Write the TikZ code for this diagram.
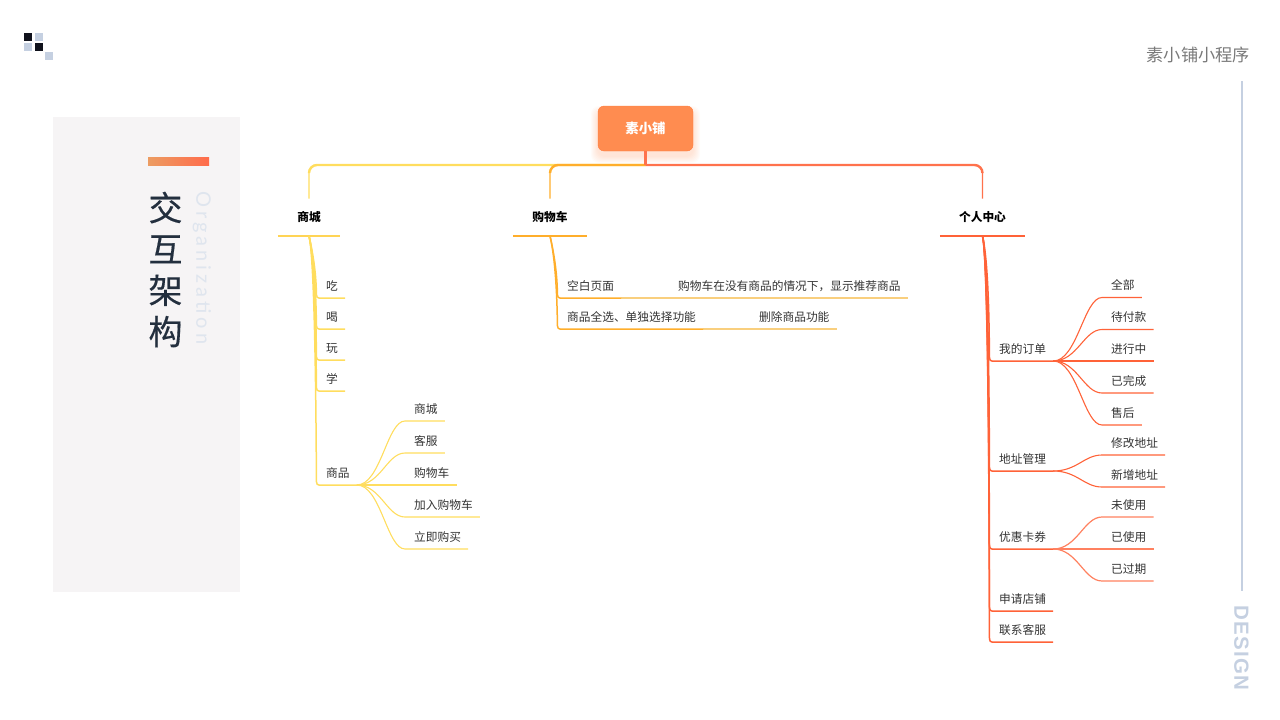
\documentclass[tikz,border=0pt]{standalone}
\usepackage{fontspec}
\setmainfont{Noto Sans CJK SC}
\newfontfamily\titlefont[FakeBold=0.4]{Noto Sans CJK SC}
\newfontfamily\orgfont[LetterSpace=20]{Lato}
\newfontfamily\designfont[LetterSpace=6]{Liberation Sans}
\usetikzlibrary{calc}

\definecolor{inkdark}{HTML}{232F3E}
\definecolor{inkgrey}{HTML}{333333}
\definecolor{yelline}{HTML}{FFDD5E}
\definecolor{orgline}{HTML}{FFAE2B}
\definecolor{orgpale}{HTML}{F9CF7E}
\definecolor{redline}{HTML}{FF6238}
\definecolor{redpale}{HTML}{F6937A}
\definecolor{steel}{HTML}{C5D0E1}
\definecolor{panel}{HTML}{F6F4F5}
\definecolor{rootfill}{HTML}{FF8C50}
\definecolor{rootedge}{HTML}{FF7C3E}
\definecolor{barleft}{HTML}{EC9C62}
\definecolor{barright}{HTML}{FF6B4B}
\definecolor{logodark}{HTML}{10121C}

\tikzset{
    leaf/.style={anchor=south west,inner xsep=7pt,inner ysep=6pt,text height=10.5pt,text depth=1.5pt,
        font=\fontsize{11.7}{12}\selectfont,text=inkgrey},
    headnode/.style={anchor=south,inner xsep=0pt,inner ysep=12pt,text height=10.5pt,text depth=2.5pt,
        font=\fontsize{11.7}{12}\selectfont\bfseries,text=black},
}

% trunk from a head node down to one of its items, then along the underline
\newcommand{\stemto}[3]{\draw[#1,line width=1.5pt,line join=round] (#2.south) .. controls +(7,30) and ($(#3.south west)+(-2.8,-12)$) .. ($(#3.south west)+(-2.5,-3)$) .. controls ($(#3.south west)+(-2.5,-1)$) and ($(#3.south west)+(-1.5,0)$) .. (#3.south west) -- (#3.south east);}
% s-curve from an item to its sub item, then along the underline
\newcommand{\fanto}[4]{\draw[#1,line width=#4] (#2.south east) .. controls +(24,0) and ($(#3.south west)+(-20,0)$) .. ($(#3.south west)+(-2,0)$) -- (#3.south east);}

\begin{document}
\begin{tikzpicture}[x=1pt,y=-1pt]
    \useasboundingbox (0,0) rectangle (1280,720);

    % logo squares
    \foreach \x/\y/\c in {24/33/logodark,35.3/33/steel,24/43/steel,35.3/43/logodark,45/52/steel}
        \fill[\c] (\x,\y) rectangle ++(8,8);

    % left panel
    \fill[panel] (53,117) rectangle (240,592);
    \shade[left color=barleft,right color=barright] (148,157) rectangle (209,165);
    \node[text=inkdark,align=center,inner sep=0pt,font=\titlefont\fontsize{34}{41.3}\selectfont] (title) at (165.5,269.5) {交\\互\\架\\构};
    \node[rotate=-90,text=steel!55!white,inner sep=0pt,font=\orgfont\fontsize{20}{22}\selectfont] (org) at (202,268) {Organization};

    % right margin
    \node[anchor=east,inner sep=0pt,text=gray!95!black,font=\fontsize{17.2}{20}\selectfont] (brand) at (1250,55) {素小铺小程序};
    \coordinate (railtop) at (1242,81);
    \coordinate (railend) at (1242,591);
    \draw[steel,line width=1.6pt] (railtop) -- (railend);
    \node[rotate=-90,text=steel,inner sep=0pt,font=\designfont\bfseries\fontsize{20.5}{22}\selectfont] (design) at (1241.5,648) {DESIGN};

    % root
    \foreach \s in {1,...,7}
        \fill[rootfill,opacity=0.035,rounded corners=8pt] (598-\s,106-\s+7) rectangle (693+\s,151+\s+5);
    \node[draw=rootedge,fill=rootfill,rounded corners=6pt,minimum width=95pt,minimum height=45pt,inner sep=0pt,
        text=white,font=\fontsize{13.4}{14}\selectfont\bfseries] (root) at (645.5,128.5) {\raisebox{-0.5pt}{素小铺}};
    \coordinate (bus) at (645.5,165);

    % heads
    \node[headnode,minimum width=62pt] (shangcheng) at (309,236) {商城};
    \node[headnode,minimum width=74pt] (gouwuche) at (550,236) {购物车};
    \node[headnode,minimum width=85pt] (geren) at (982.5,236) {个人中心};

    % bus lines
    \draw[yelline,line width=1.3pt,rounded corners=8pt] (bus) -| (shangcheng.north);
    \draw[yelline,line width=2.4pt,rounded corners=8pt] (bus) -| ($(shangcheng.north)+(0,-26)$);
    \draw[orgline,line width=1.3pt,rounded corners=8pt] (bus) -| (gouwuche.north);
    \draw[orgline,line width=2.4pt,rounded corners=8pt] (bus) -| ($(gouwuche.north)+(0,-26)$);
    \draw[redline!90!white,line width=1.3pt,rounded corners=8pt] (bus) -| (geren.north);
    \draw[redline!90!white,line width=2.4pt,rounded corners=8pt] (bus) -| ($(geren.north)+(0,-26)$);
    \draw[redline!90!white,line width=3pt] (root.south) -- (bus);

    % head underlines
    \draw[yelline!90!orange,line width=1.6pt] (shangcheng.south west) -- (shangcheng.south east);
    \draw[orgline,line width=1.6pt] (gouwuche.south west) -- (gouwuche.south east);
    \draw[redline,line width=1.6pt] (geren.south west) -- (geren.south east);

    % shangcheng items
    \node[leaf] (chi) at (319,298) {吃};
    \node[leaf] (he) at (319,329) {喝};
    \node[leaf] (wan) at (319,360) {玩};
    \node[leaf] (xue) at (319,391) {学};
    \node[leaf] (shangpin) at (319,485) {商品};
    \foreach \k in {chi,he,wan,xue,shangpin}
        {\stemto{yelline}{shangcheng}{\k}}

    % shangpin sub items
    \node[leaf] (subcheng) at (407,421) {商城};
    \node[leaf] (kefu) at (407,453) {客服};
    \node[leaf] (subche) at (407,485) {购物车};
    \node[leaf] (jiaru) at (407,517) {加入购物车};
    \node[leaf] (goumai) at (407,549) {立即购买};
    \foreach \k in {subcheng,kefu,subche,jiaru,goumai}
        {\fanto{yelline}{shangpin}{\k}{1.1pt}}

    % gouwuche items
    \node[leaf] (kongbai) at (560,298) {空白页面};
    \node[leaf] (quanxuan) at (560,329) {商品全选、单独选择功能};
    \node[leaf] (tuijian) at (671,298) {购物车在没有商品的情况下，显示推荐商品};
    \node[leaf] (shanchu) at (752,329) {删除商品功能};
    \draw[orgpale,line width=1.4pt] (kongbai.south east) -- (tuijian.south east);
    \draw[orgpale,line width=1.4pt] (quanxuan.south east) -- (shanchu.south east);
    \foreach \k in {kongbai,quanxuan}
        {\stemto{orgline}{gouwuche}{\k}}

    % geren items
    \node[leaf] (dingdan) at (992,361) {我的订单};
    \node[leaf] (dizhi) at (992,471) {地址管理};
    \node[leaf] (kaquan) at (992,549) {优惠卡券};
    \node[leaf] (dianpu) at (992,611) {申请店铺};
    \node[leaf] (lianxi) at (992,642) {联系客服};
    \foreach \k in {dingdan,dizhi,kaquan,dianpu,lianxi}
        {\stemto{redline}{geren}{\k}}

    % dingdan sub items
    \node[leaf] (quanbu) at (1104,297.5) {全部};
    \node[leaf] (daifu) at (1104,329.5) {待付款};
    \node[leaf] (jinxing) at (1104,361) {进行中};
    \node[leaf] (wancheng) at (1104,393) {已完成};
    \node[leaf] (shouhou) at (1104,425) {售后};
    \foreach \k in {quanbu,daifu,jinxing,wancheng,shouhou}
        {\fanto{redline}{dingdan}{\k}{1.1pt}}

    % dizhi sub items
    \node[leaf] (xiugai) at (1104,455) {修改地址};
    \node[leaf] (xinzeng) at (1104,487) {新增地址};
    \foreach \k in {xiugai,xinzeng}
        {\fanto{redline}{dizhi}{\k}{1.1pt}}

    % kaquan sub items
    \node[leaf] (weiyong) at (1104,517) {未使用};
    \node[leaf] (yiyong) at (1104,549) {已使用};
    \node[leaf] (guoqi) at (1104,581) {已过期};
    \foreach \k in {weiyong,yiyong,guoqi}
        {\fanto{redline!80!white}{kaquan}{\k}{1.2pt}}
\end{tikzpicture}
\end{document}
